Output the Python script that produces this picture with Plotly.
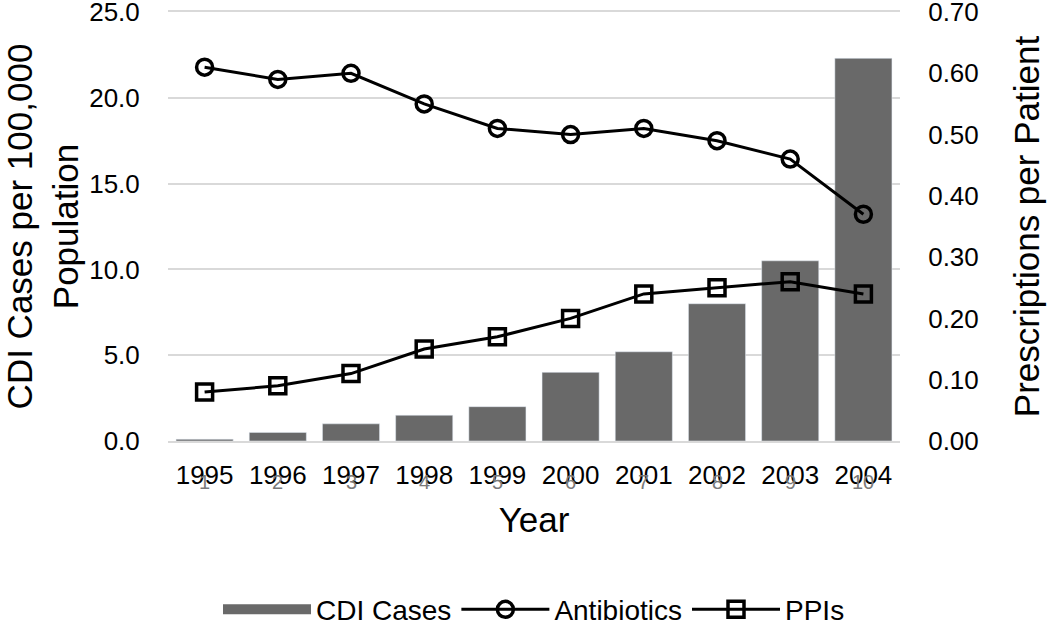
import plotly.graph_objects as go

# DATA
years = ['1995', '1996', '1997', '1998', '1999', '2000', '2001', '2002', '2003', '2004']
index_labels = ['1', '2', '3', '4', '5', '6', '7', '8', '9', '10']
cdi_cases = [0.1, 0.5, 1.0, 1.5, 2.0, 4.0, 5.2, 8.0, 10.5, 22.3]
antibiotics = [0.61, 0.59, 0.60, 0.55, 0.51, 0.50, 0.51, 0.49, 0.46, 0.37]
ppis = [0.08, 0.09, 0.11, 0.15, 0.17, 0.20, 0.24, 0.25, 0.26, 0.24]

font = 'Liberation Sans, Arial, sans-serif'
bar_color = '#696969'

fig = go.Figure()
fig.add_trace(go.Bar(x=years, y=cdi_cases, name='CDI Cases', marker_color=bar_color,
                     showlegend=False))
# legend entry with the wide swatch
fig.add_trace(go.Scatter(x=[None], y=[None], name='CDI Cases', mode='lines',
                         line=dict(color=bar_color, width=12)))
fig.add_trace(go.Scatter(x=years, y=antibiotics, name='Antibiotics', yaxis='y2',
                         mode='lines+markers', line=dict(color='black', width=3),
                         marker=dict(symbol='circle-open', size=16, color='black',
                                     line=dict(width=3.5))))
fig.add_trace(go.Scatter(x=years, y=ppis, name='PPIs', yaxis='y2',
                         mode='lines+markers', line=dict(color='black', width=3),
                         marker=dict(symbol='square-open', size=16, color='black',
                                     line=dict(width=3.5))))

# faint overlapping index labels under the years (category positions 0..9)
for i, lab in enumerate(index_labels):
    fig.add_annotation(x=i, y=0, xref='x', yref='paper', yanchor='middle', text=lab,
                       showarrow=False, yshift=-41,
                       font=dict(family=font, size=20, color='#7a7a7a'))

fig.update_layout(
    width=1050, height=623,
    margin=dict(l=168, r=150, t=12, b=182, autoexpand=False),
    plot_bgcolor='white', paper_bgcolor='white',
    font=dict(family=font, color='black'),
    bargap=0.22,
    xaxis=dict(type='category', categoryorder='array', categoryarray=years,
               range=[-0.5, 9.5], tickfont=dict(size=26), ticks='outside',
               ticklen=10, tickcolor='rgba(0,0,0,0)', showgrid=False,
               title=dict(text='Year', font=dict(size=35), standoff=18),
               showline=True, mirror=True, linecolor='#d9d9d9', linewidth=2,
               automargin=False),
    yaxis=dict(range=[0, 25], tickvals=[0, 5, 10, 15, 20, 25], tickformat='.1f',
               tickfont=dict(size=26), automargin=False, ticklabeloverflow='allow',
               ticks='outside', ticklen=22, tickcolor='rgba(0,0,0,0)',
               gridcolor='#d9d9d9', gridwidth=2, zeroline=False,
               title=dict(text='CDI Cases per 100,000<br>Population', font=dict(size=35),
                          standoff=0)),
    yaxis2=dict(range=[0, 0.70], tickvals=[0, 0.1, 0.2, 0.3, 0.4, 0.5, 0.6, 0.7],
                tickformat='.2f', tickfont=dict(size=26), automargin=False,
                ticklabeloverflow='allow', ticks='outside', ticklen=22,
                tickcolor='rgba(0,0,0,0)',
                overlaying='y', side='right', showgrid=False, zeroline=False,
                title=dict(text='Prescriptions per Patient', font=dict(size=35),
                           standoff=36)),
    legend=dict(orientation='h', x=0.5, xanchor='center', y=-0.393, yanchor='middle',
                font=dict(size=28), traceorder='normal', itemwidth=88),
)

# drop the default 8px page margin so the figure sits at the window's corner
fig.write_html("out.html", config={'displayModeBar': False},
               post_script="document.body.style.margin='0';")
